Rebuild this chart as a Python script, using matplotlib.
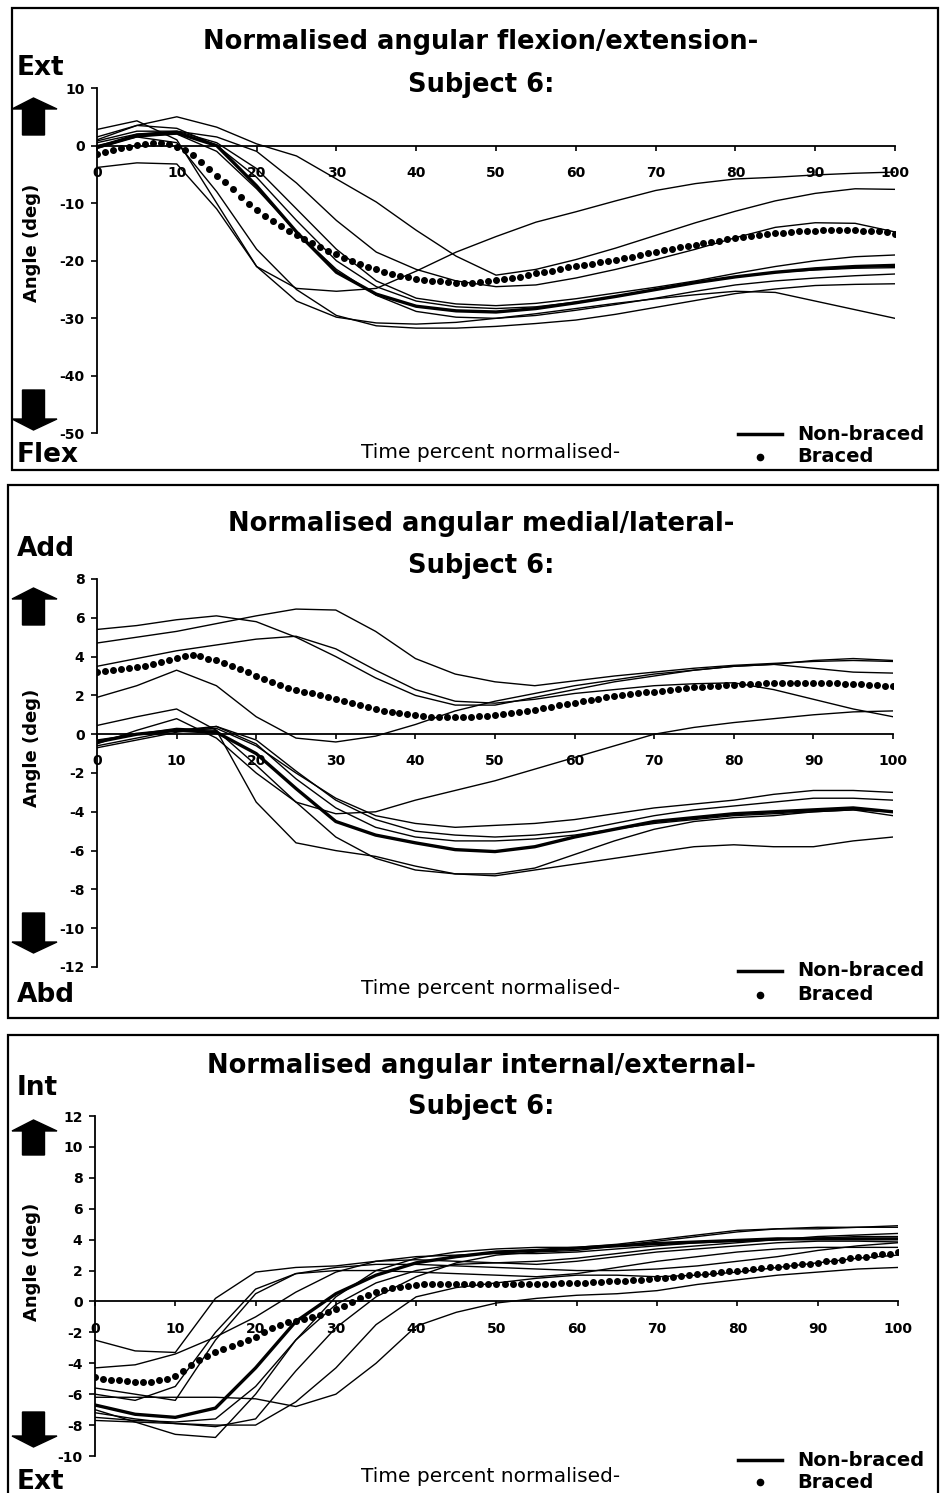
import numpy as np
import matplotlib
matplotlib.use('agg')
import matplotlib.pyplot as plt
from matplotlib.patches import Rectangle, Polygon
from matplotlib.lines import Line2D

plt.rcParams['axes.unicode_minus'] = False

# knee angles, subject 6, non-braced trials (every 5 %), their mean, braced mean (every 1 %)
pct5 = list(range(0, 101, 5))
pct1 = list(range(0, 101))

flex_trials = [
    [2.8, 4.3, 1.0, -10, -21, -24.8, -25.3, -24.8, -21.8, -18.5, -15.8, -13.3, -11.5, -9.6, -7.8, -6.6, -5.8, -5.5, -5.1, -4.8, -4.6],
    [1.0, 3.5, 5.0, 3.2, 0.3, -1.8, -5.8, -9.8, -14.7, -19.2, -22.5, -21.5, -19.8, -17.8, -15.6, -13.4, -11.4, -9.6, -8.3, -7.5, -7.6],
    [0.5, 2.0, 2.5, 1.5, -1.0, -6.5, -13.0, -18.5, -21.5, -23.5, -24.5, -24.2, -23.0, -21.5, -19.8, -18.0, -16.0, -14.2, -13.4, -13.5, -15.0],
    [-3.8, -3.0, -3.2, -11, -21, -27, -29.8, -30.8, -31.0, -30.7, -30.0, -29.2, -28.3, -27.4, -26.6, -25.9, -25.3, -25.5, -27.0, -28.5, -30.0],
    [-0.5, 1.5, 0.5, -8, -18, -25, -29.5, -31.3, -31.7, -31.7, -31.4, -30.9, -30.3, -29.3, -28.1, -26.9, -25.7, -24.9, -24.3, -24.1, -24.0],
    [0.8, 2.5, 2.5, 0.5, -4.0, -11, -18, -23.5, -26.5, -27.5, -27.8, -27.4, -26.6, -25.6, -24.6, -23.5, -22.2, -21.0, -20.0, -19.3, -19.0],
    [0.0, 1.5, 2.0, -1.0, -7.5, -15, -21.5, -26, -28.8, -29.8, -30.0, -29.5, -28.6, -27.6, -26.5, -25.3, -24.2, -23.5, -23.0, -22.6, -22.3],
    [1.5, 3.5, 3.0, 0.0, -5.5, -13, -20, -24.5, -27.0, -28.0, -28.3, -28.0, -27.2, -26.2, -25.0, -23.8, -22.8, -22.0, -21.6, -21.3, -21.2],
]
flex_mean = [-0.3, 1.8, 2.2, 0.0, -7.0, -15.0, -22.0, -25.8, -27.9, -28.7, -28.9, -28.3, -27.3, -26.2, -25.0, -23.8, -22.8, -22.0, -21.4, -21.0, -20.8]
flex_braced = [
    -1.5, -1.2, -0.8, -0.5, -0.2, 0.1, 0.3, 0.4, 0.4, 0.2,
    -0.2, -0.8, -1.6, -2.8, -4.0, -5.2, -6.4, -7.6, -8.9, -10.1,
    -11.2, -12.2, -13.1, -14.0, -14.8, -15.5, -16.2, -16.9, -17.6, -18.3,
    -18.9, -19.5, -20.1, -20.6, -21.1, -21.5, -21.9, -22.3, -22.6, -22.9,
    -23.1, -23.3, -23.5, -23.6, -23.7, -23.8, -23.8, -23.8, -23.7, -23.6,
    -23.4, -23.2, -23.0, -22.8, -22.5, -22.2, -21.9, -21.7, -21.4, -21.1,
    -20.9, -20.7, -20.5, -20.3, -20.1, -19.9, -19.6, -19.3, -19.0, -18.7,
    -18.4, -18.2, -17.9, -17.6, -17.4, -17.2, -16.9, -16.7, -16.5, -16.3,
    -16.1, -15.9, -15.7, -15.5, -15.4, -15.2, -15.1, -15.0, -14.9, -14.8,
    -14.8, -14.7, -14.7, -14.7, -14.7, -14.7, -14.8, -14.8, -14.9, -15.0,
    -15.3,
]

ml_trials = [
    [5.4, 5.6, 5.9, 6.1, 5.8, 5.0, 4.0, 2.9, 2.0, 1.5, 1.5, 1.9, 2.3, 2.7, 3.0, 3.3, 3.5, 3.6, 3.4, 3.2, 3.15],
    [4.7, 5.0, 5.3, 5.7, 6.1, 6.45, 6.4, 5.3, 3.9, 3.1, 2.7, 2.5, 2.75, 3.0, 3.2, 3.4, 3.55, 3.65, 3.75, 3.8, 3.75],
    [3.5, 3.9, 4.3, 4.6, 4.9, 5.05, 4.4, 3.3, 2.3, 1.7, 1.6, 1.8, 2.1, 2.3, 2.5, 2.6, 2.65, 2.3, 1.8, 1.3, 0.9],
    [1.9, 2.5, 3.3, 2.5, 0.9, -0.2, -0.4, -0.1, 0.5, 1.2, 1.7, 2.1, 2.5, 2.8, 3.1, 3.3, 3.5, 3.6, 3.8, 3.9, 3.8],
    [0.45, 0.9, 1.3, 0.2, -3.5, -5.6, -6.0, -6.3, -6.8, -7.2, -7.3, -7.0, -6.7, -6.4, -6.1, -5.8, -5.7, -5.8, -5.8, -5.5, -5.3],
    [-0.5, 0.2, 0.8, -0.2, -2.0, -3.5, -4.1, -4.0, -3.4, -2.9, -2.4, -1.8, -1.2, -0.6, 0.0, 0.35, 0.6, 0.8, 1.0, 1.15, 1.2],
    [-0.3, 0.0, 0.2, 0.3, -0.6, -2.0, -3.3, -4.2, -4.6, -4.8, -4.7, -4.6, -4.4, -4.1, -3.8, -3.6, -3.4, -3.1, -2.9, -2.9, -3.0],
    [-0.6, -0.2, 0.2, 0.4, -0.3, -1.9, -3.4, -4.4, -5.0, -5.2, -5.3, -5.2, -5.0, -4.6, -4.2, -3.9, -3.7, -3.5, -3.3, -3.3, -3.4],
    [-0.4, 0.0, 0.3, 0.2, -1.6, -3.5, -5.3, -6.4, -7.0, -7.2, -7.2, -6.9, -6.2, -5.5, -4.9, -4.5, -4.3, -4.2, -4.0, -3.9, -4.0],
    [-0.7, -0.3, 0.1, 0.4, -0.5, -2.3, -3.8, -4.8, -5.3, -5.5, -5.5, -5.4, -5.2, -4.9, -4.6, -4.4, -4.2, -4.1, -4.0, -3.9, -4.2],
]
ml_mean = [-0.4, 0.0, 0.2, 0.1, -1.0, -2.8, -4.5, -5.2, -5.6, -5.95, -6.05, -5.8, -5.3, -4.9, -4.5, -4.3, -4.1, -4.0, -3.9, -3.8, -4.0]
ml_braced = [
    3.2, 3.25, 3.3, 3.35, 3.4, 3.45, 3.5, 3.6, 3.7, 3.8,
    3.95, 4.05, 4.1, 4.05, 3.9, 3.8, 3.65, 3.5, 3.35, 3.2,
    3.0, 2.85, 2.7, 2.55, 2.4, 2.3, 2.2, 2.1, 2.0, 1.9,
    1.8, 1.7, 1.6, 1.5, 1.4, 1.3, 1.2, 1.15, 1.1, 1.05,
    1.0, 0.95, 0.9, 0.9, 0.9, 0.9, 0.9, 0.9, 0.95, 0.95,
    1.0, 1.05, 1.1, 1.15, 1.2, 1.25, 1.35, 1.4, 1.5, 1.55,
    1.6, 1.7, 1.75, 1.8, 1.9, 1.95, 2.0, 2.05, 2.1, 2.15,
    2.2, 2.25, 2.3, 2.35, 2.4, 2.45, 2.45, 2.5, 2.5, 2.55,
    2.55, 2.6, 2.6, 2.6, 2.65, 2.65, 2.65, 2.65, 2.65, 2.65,
    2.65, 2.65, 2.65, 2.65, 2.6, 2.6, 2.6, 2.55, 2.55, 2.5,
    2.5,
]

rot_trials = [
    [-2.5, -3.2, -3.3, 0.2, 1.9, 2.2, 2.3, 2.6, 2.9, 3.0, 3.1, 3.1, 3.2, 3.4, 3.6, 3.8, 3.9, 4.0, 4.1, 4.2, 4.2],
    [-4.3, -4.1, -3.4, -2.3, -1.0, 0.6, 1.9, 2.6, 2.7, 2.6, 2.5, 2.4, 2.6, 2.9, 3.2, 3.4, 3.6, 3.8, 3.9, 3.9, 3.85],
    [-5.6, -6.0, -6.4, -2.5, 0.5, 1.8, 2.2, 2.4, 2.4, 2.3, 2.2, 2.1, 2.0, 2.0, 2.1, 2.3, 2.6, 2.9, 3.3, 3.6, 3.8],
    [-6.2, -6.2, -6.2, -6.2, -6.3, -6.8, -6.0, -4.0, -1.6, -0.7, -0.1, 0.2, 0.4, 0.5, 0.7, 1.1, 1.4, 1.7, 1.9, 2.1, 2.2],
    [-7.0, -7.8, -8.6, -8.8, -6.0, -2.5, 0.3, 2.0, 2.8, 3.2, 3.4, 3.5, 3.5, 3.7, 4.0, 4.3, 4.6, 4.7, 4.7, 4.8, 4.8],
    [-7.2, -7.6, -7.9, -8.1, -7.6, -4.5, -1.7, 0.3, 1.6, 2.5, 3.0, 3.2, 3.3, 3.6, 3.9, 4.2, 4.5, 4.7, 4.8, 4.8, 4.9],
    [-7.7, -7.8, -7.9, -8.0, -8.0, -6.5, -4.3, -1.5, 0.3, 0.9, 1.2, 1.5, 1.7, 1.7, 1.6, 1.7, 1.9, 2.2, 2.5, 2.8, 3.0],
    [-7.5, -7.7, -7.8, -7.6, -5.5, -2.5, -0.2, 1.2, 2.0, 2.4, 2.5, 2.6, 2.8, 3.1, 3.4, 3.6, 3.8, 4.0, 4.2, 4.3, 4.4],
    [-6.0, -6.4, -5.5, -2.0, 0.8, 1.8, 2.0, 2.0, 1.9, 1.8, 1.7, 1.6, 1.8, 2.2, 2.6, 2.9, 3.2, 3.4, 3.5, 3.5, 3.5],
]
rot_mean = [-6.7, -7.3, -7.5, -6.9, -4.3, -1.3, 0.5, 1.7, 2.5, 2.9, 3.2, 3.3, 3.45, 3.6, 3.75, 3.85, 3.95, 4.05, 4.05, 4.05, 4.05]
rot_braced = [
    -4.9, -5.0, -5.05, -5.1, -5.15, -5.2, -5.2, -5.2, -5.1, -5.0,
    -4.8, -4.5, -4.1, -3.8, -3.5, -3.3, -3.1, -2.9, -2.7, -2.5,
    -2.3, -2.0, -1.7, -1.5, -1.35, -1.25, -1.15, -1.0, -0.85, -0.65,
    -0.5, -0.3, -0.05, 0.2, 0.4, 0.6, 0.75, 0.85, 0.95, 1.0,
    1.05, 1.1, 1.1, 1.1, 1.15, 1.15, 1.15, 1.15, 1.15, 1.15,
    1.15, 1.15, 1.15, 1.15, 1.15, 1.15, 1.15, 1.15, 1.2, 1.2,
    1.2, 1.2, 1.25, 1.25, 1.3, 1.3, 1.35, 1.4, 1.4, 1.45,
    1.5, 1.55, 1.6, 1.65, 1.7, 1.75, 1.8, 1.85, 1.9, 1.95,
    2.0, 2.05, 2.1, 2.15, 2.2, 2.25, 2.3, 2.35, 2.4, 2.45,
    2.5, 2.6, 2.65, 2.7, 2.8, 2.85, 2.9, 3.0, 3.05, 3.1,
    3.2,
]

titles = ['Normalised angular flexion/extension-',
          'Normalised angular medial/lateral-',
          'Normalised angular internal/external-']
top_words = ['Ext', 'Add', 'Int']
bottom_words = ['Flex', 'Abd', 'Ext']
xticks = list(range(0, 101, 10))

W, H = 940, 1493
fig = plt.figure(figsize=(W / 100, H / 100), dpi=100)
FONT = 'DejaVu Sans'


def fx(px):
    return px / W


def fy(py):
    return 1 - py / H


def block_arrow(x0, x1, y_top, y_bot, up=True):
    xm = (x0 + x1) / 2 - 1
    sw = 11   # half shaft width
    head = 11
    if up:
        pts = [(x0, y_top + head), (xm, y_top), (x1, y_top + head),
               (xm + sw, y_top + head), (xm + sw, y_bot), (xm - sw, y_bot), (xm - sw, y_top + head)]
    else:
        pts = [(x0, y_bot - head), (xm, y_bot), (x1, y_bot - head),
               (xm + sw, y_bot - head), (xm + sw, y_top), (xm - sw, y_top), (xm - sw, y_bot - head)]
    fig.add_artist(Polygon([(fx(a), fy(b)) for a, b in pts], closed=True,
                           transform=fig.transFigure, color='black'))


# per panel layout in pixels
layouts = [
    dict(frame=(12, 8, 938, 470), ax=(97, 88, 895, 433.5), ylim=(-50, 10), ystep=10,
         t1=42, t2=85, top=68, up=(98, 135), down=(390, 430), bot=455, ylab=243,
         xlab=452, leg1=434, leg2=457),
    dict(frame=(8, 485, 938, 1018), ax=(97, 579, 893, 967), ylim=(-12, 8), ystep=2,
         t1=524, t2=566, top=549, up=(588, 625), down=(913, 953), bot=995, ylab=748,
         xlab=989, leg1=971, leg2=995),
    dict(frame=(8, 1035, 938, 1510), ax=(95, 1116, 898, 1456), ylim=(-10, 12), ystep=2,
         t1=1066, t2=1107, top=1088, up=(1120, 1155), down=(1412, 1447), bot=1482, ylab=1262,
         xlab=1477, leg1=1460, leg2=1482),
]

series = [(flex_trials, flex_mean, flex_braced),
          (ml_trials, ml_mean, ml_braced),
          (rot_trials, rot_mean, rot_braced)]

for i, (lay, (trials, mean, braced)) in enumerate(zip(layouts, series)):
    fl, ft, fr, fb = lay['frame']
    fig.add_artist(Rectangle((fx(fl), fy(fb)), fx(fr) - fx(fl), fy(ft) - fy(fb),
                             transform=fig.transFigure, fill=False, lw=1.6, ec='black'))
    al, at, ar, ab = lay['ax']
    ax = fig.add_axes([fx(al), fy(ab), fx(ar) - fx(al), fy(at) - fy(ab)])

    for tr in trials:
        ax.plot(pct5, tr, color='black', lw=1.0)
    ax.plot(pct5, mean, color='black', lw=2.4)
    ax.plot(pct1, braced, 'o', color='black', ms=4.0, mec='black')

    ax.set_xlim(0, 100)
    ax.set_ylim(*lay['ylim'])
    ax.set_yticks(np.arange(lay['ylim'][0], lay['ylim'][1] + 0.1, lay['ystep']))
    ax.set_xticks(xticks)
    ax.spines['top'].set_visible(False)
    ax.spines['right'].set_visible(False)
    ax.spines['bottom'].set_position(('data', 0))
    ax.spines['left'].set_linewidth(1.3)
    ax.spines['bottom'].set_linewidth(1.3)
    ax.patch.set_alpha(0)
    ax.tick_params(axis='y', direction='out', length=4, width=1.2, pad=5, labelsize=10)
    ax.tick_params(axis='x', direction='out', length=3.5, width=1.2, pad=11, labelsize=10)
    for lab in ax.get_xticklabels() + ax.get_yticklabels():
        lab.set_fontweight('bold')
        lab.set_family(FONT)

    cx = 481
    fig.text(fx(cx), fy(lay['t1']), titles[i], ha='center', va='center',
             fontsize=18.5, fontweight='bold', family=FONT)
    fig.text(fx(cx), fy(lay['t2']), 'Subject 6:', ha='center', va='center',
             fontsize=18.5, fontweight='bold', family=FONT)
    fig.text(fx(17), fy(lay['top']), top_words[i], ha='left', va='center',
             fontsize=19, fontweight='bold', family=FONT)
    fig.text(fx(17), fy(lay['bot']), bottom_words[i], ha='left', va='center',
             fontsize=19, fontweight='bold', family=FONT)
    fig.text(fx(32), fy(lay['ylab']), 'Angle (deg)', ha='center', va='center',
             rotation=90, fontsize=13, fontweight='bold', family=FONT)
    fig.text(fx(491), fy(lay['xlab']), 'Time percent normalised-', ha='center', va='center',
             fontsize=14.5, family=FONT)
    block_arrow(12, 57, lay['up'][0], lay['up'][1], up=True)
    block_arrow(12, 57, lay['down'][0], lay['down'][1], up=False)

    # legend
    fig.add_artist(Line2D([fx(738), fx(782)], [fy(lay['leg1'])] * 2, color='black', lw=2.5,
                          transform=fig.transFigure))
    fig.add_artist(Line2D([fx(760)], [fy(lay['leg2'])], marker='o', ms=4.5, color='black',
                          transform=fig.transFigure))
    fig.text(fx(797), fy(lay['leg1']), 'Non-braced', ha='left', va='center',
             fontsize=14, fontweight='bold', family=FONT)
    fig.text(fx(797), fy(lay['leg2']), 'Braced', ha='left', va='center',
             fontsize=14, fontweight='bold', family=FONT)

fig.savefig('out.png', dpi=100)
